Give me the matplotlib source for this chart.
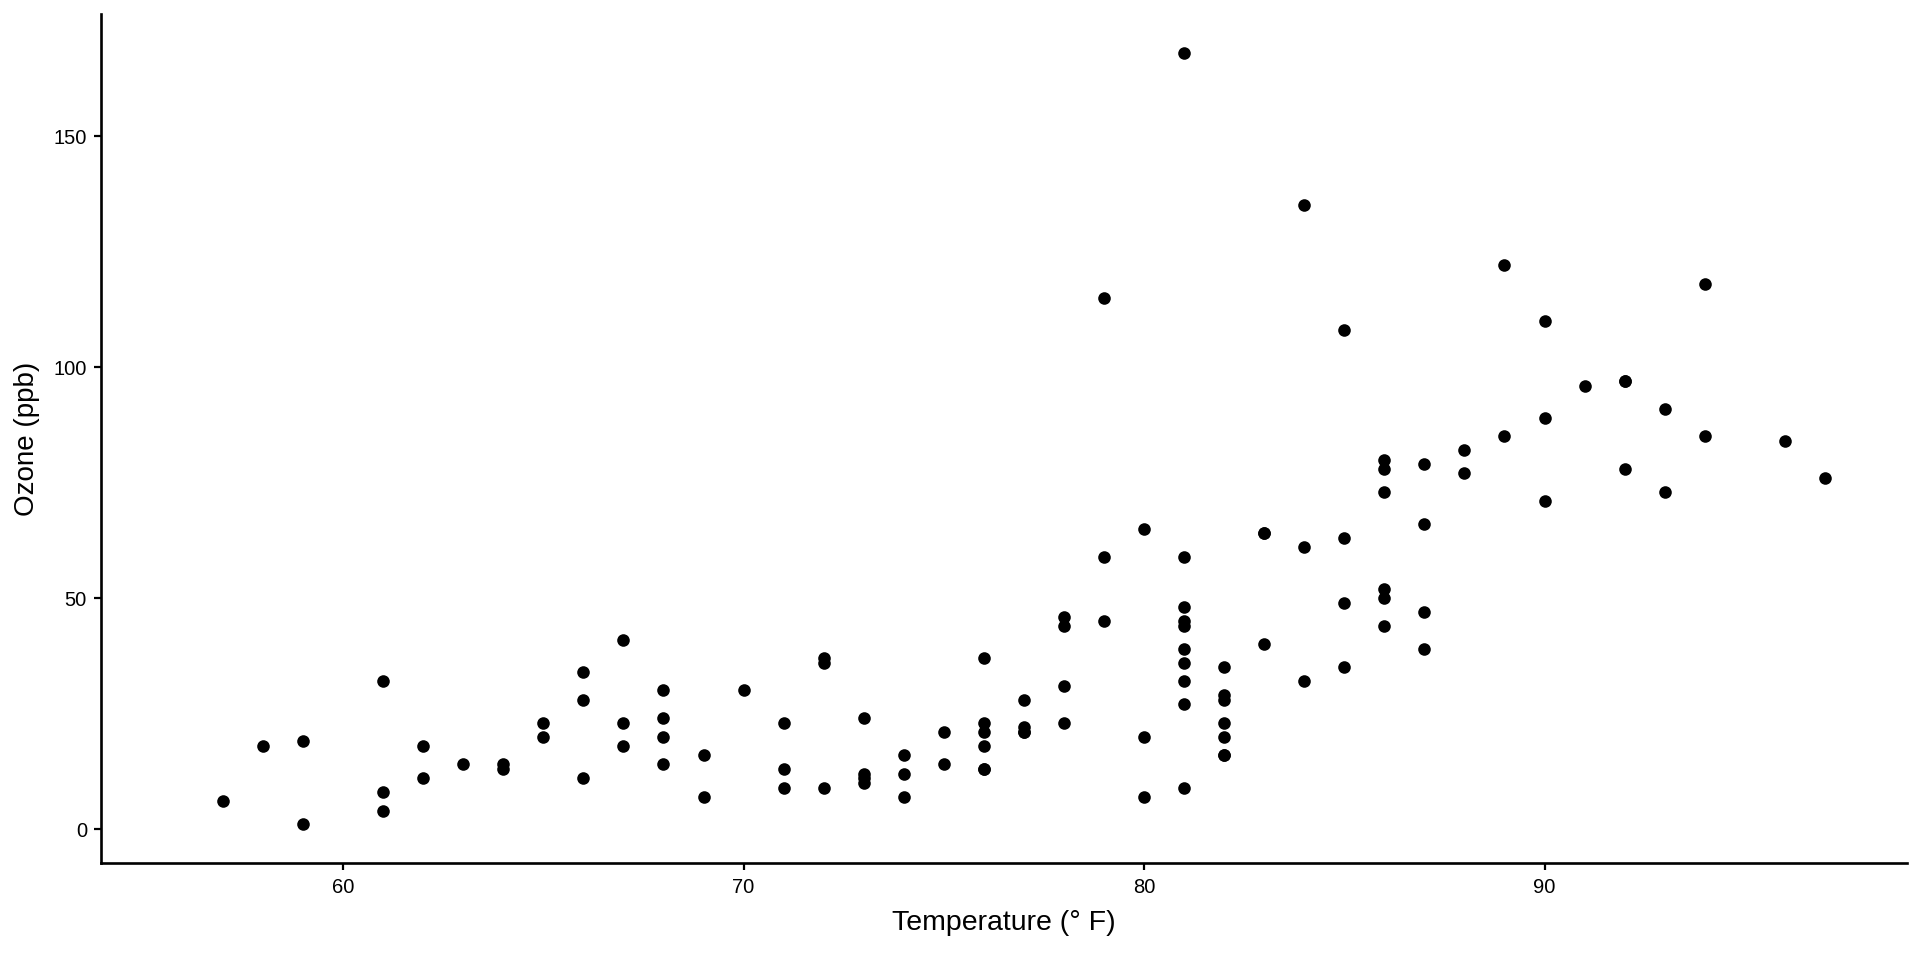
import numpy as np
import matplotlib
matplotlib.use('Agg')
import matplotlib.pyplot as plt

# airquality rows with ozone present: temperature (F) and ozone (ppb)
temp = [67, 72, 74, 62, 66, 65, 59, 61, 74, 69, 66, 68, 58, 64, 66, 57, 68, 62, 59, 73,
        61, 61, 67, 81, 79, 76, 82, 90, 87, 82, 77, 72, 65, 73, 76, 84, 85, 81, 83, 83,
        88, 92, 92, 89, 73, 81, 80, 81, 82, 84, 87, 85, 74, 86, 85, 82, 86, 88, 86, 83,
        81, 81, 81, 82, 86, 85, 87, 89, 90, 90, 86, 82, 80, 77, 79, 76, 78, 78, 77, 72,
        79, 81, 86, 97, 94, 96, 94, 91, 92, 93, 93, 87, 84, 80, 78, 75, 73, 81, 76, 77,
        71, 71, 78, 67, 76, 68, 82, 64, 71, 81, 69, 63, 70, 75, 76, 68]
ozone = [41, 36, 12, 18, 28, 23, 19, 8, 7, 16, 11, 14, 18, 14, 34, 6, 30, 11, 1, 11,
         4, 32, 23, 45, 115, 37, 29, 71, 39, 23, 21, 37, 20, 12, 13, 135, 49, 32, 64, 40,
         77, 97, 97, 85, 10, 27, 7, 48, 35, 61, 79, 63, 16, 80, 108, 20, 52, 82, 50, 64,
         59, 39, 9, 16, 78, 35, 66, 122, 89, 110, 44, 28, 65, 22, 59, 23, 31, 44, 21, 9,
         45, 168, 73, 76, 118, 84, 85, 96, 78, 73, 91, 47, 32, 20, 23, 21, 24, 44, 21, 28,
         9, 13, 46, 18, 13, 24, 16, 13, 23, 36, 7, 14, 30, 14, 18, 20]
# full temperature range of the dataset (rows with missing ozone included)
temp_lim = [56, 97]
x_ticks = [60, 70, 80, 90]
y_ticks = [0, 50, 100, 150]

plt.rcParams['font.family'] = ['Liberation Sans', 'DejaVu Sans']

fig = plt.figure(figsize=(19.2, 9.6), dpi=100)
ax = fig.add_axes([0.0525, 0.101, 0.9407, 0.884])

ax.scatter(temp, ozone, s=82, color='black', linewidths=0, zorder=3)

# ggplot-like 5% expansion
xpad = (temp_lim[1] - temp_lim[0]) * 0.05
ax.set_xlim(temp_lim[0] - xpad, temp_lim[1] + xpad)
ypad = (max(ozone) - min(ozone)) * 0.05
ax.set_ylim(min(ozone) - ypad, max(ozone) + ypad)

ax.set_xticks(x_ticks)
ax.set_yticks(y_ticks)
ax.tick_params(axis='both', length=5, width=1.6, labelsize=14.5, color='black')
ax.tick_params(axis='x', pad=6)
ax.tick_params(axis='y', pad=5)

for side in ['top', 'right']:
    ax.spines[side].set_visible(False)
for side in ['left', 'bottom']:
    ax.spines[side].set_linewidth(1.9)

ax.set_xlabel('Temperature (° F)', fontsize=20.5, labelpad=9)
ax.set_ylabel('Ozone (ppb)', fontsize=20, labelpad=10)

fig.savefig('out.png', dpi=100)
